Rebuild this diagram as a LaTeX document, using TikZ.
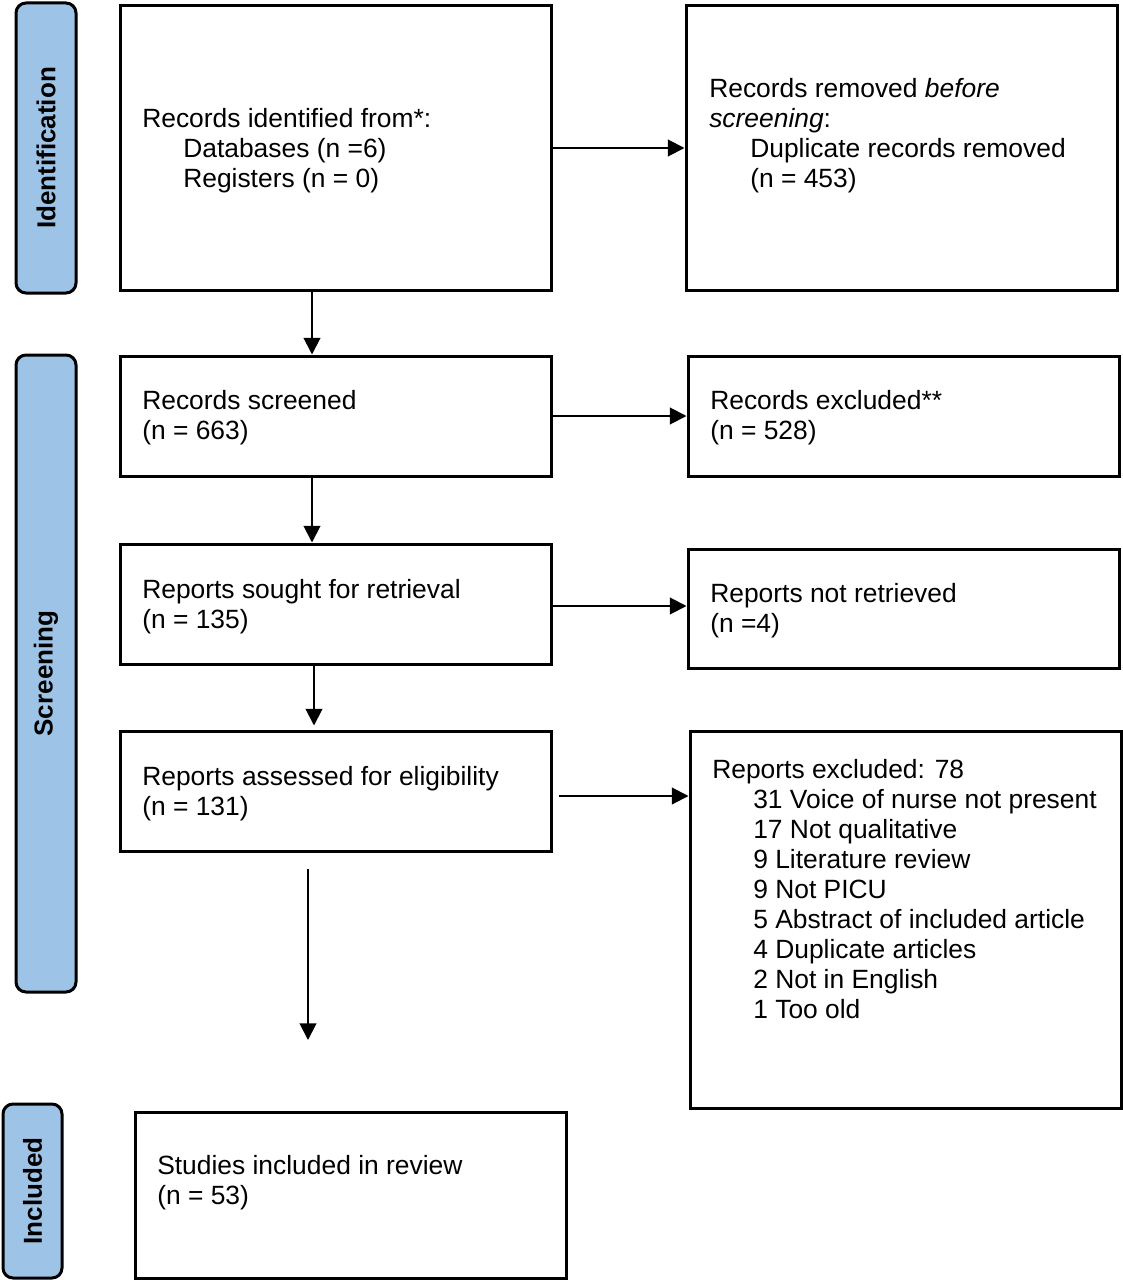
\documentclass[tikz,border=0pt]{standalone}
\usepackage{fontspec}
\setmainfont{Liberation Sans}
\usetikzlibrary{arrows.meta}
\definecolor{sideblue}{HTML}{9DC3E6}
\begin{document}
\begin{tikzpicture}[x=0.75pt,y=-0.75pt,
 box/.style={draw, line width=2.25pt, inner sep=0pt, minimum width=323.25pt},
 side/.style={draw, line width=2.25pt, fill=sideblue, rounded corners=7.5pt, inner sep=0pt, rotate=90, font=\fontsize{19.5}{22}\selectfont\bfseries},
 txt/.style={anchor=north west, inner sep=0pt, align=left, font=\fontsize{19.8}{22.5}\selectfont},
 arr/.style={line width=1.5pt, -{Triangle[length=12.5pt,width=12.5pt]}}]
\fill[white] (0,0) rectangle (1123,1280);
\useasboundingbox (0,0) rectangle (1123,1280);
% side labels
\node[side, minimum width=217.5pt, minimum height=45pt] (sid) at (46,148) {Identification};
\node[side, minimum width=477.75pt, minimum height=45pt] (ssc) at (46,673.5) {Screening};
\node[side, minimum width=130.5pt, minimum height=44.25pt] (sin) at (32.5,1191) {Included};
% boxes
\node[box, minimum height=213pt] (b1) at (335.5,148) {};
\node[box, minimum height=213pt] (b2) at (901.5,148) {};
\node[box, minimum height=90pt] (b3) at (335.5,416) {};
\node[box, minimum height=90pt] (b4) at (903.5,416) {};
\node[box, minimum height=90pt] (b5) at (335.5,604) {};
\node[box, minimum height=89.25pt] (b6) at (903.5,608.5) {};
\node[box, minimum height=90pt] (b7) at (335.5,791) {};
\node[box, minimum height=282.75pt] (b8) at (905.5,919.5) {};
\node[box, minimum height=124.5pt] (b9) at (350.5,1195) {};
% texts
\node[txt] (t1) at (142,106) {\strut Records identified from*:\\ \hspace*{30.75pt}Databases (n =6)\\ \hspace*{30.75pt}Registers (n = 0)};
\node[txt] (t2) at (709,76) {\strut Records removed \emph{before}\\ \emph{screening}:\\ \hspace*{30.75pt}Duplicate records removed\\ \hspace*{30.75pt}(n = 453)};
\node[txt] (t3) at (142,388) {\strut Records screened\\ (n = 663)};
\node[txt] (t4) at (710,388) {\strut Records excluded**\\ (n = 528)};
\node[txt] (t5) at (142,577) {\strut Reports sought for retrieval\\ (n = 135)};
\node[txt] (t6) at (710,581) {\strut Reports not retrieved\\ (n =4)};
\node[txt] (t7) at (142,764) {\strut Reports assessed for eligibility\\ (n = 131)};
\node[txt] (t8) at (712,757) {\strut Reports excluded: 78\\
 \hspace*{30.75pt}31 Voice of nurse not present\\
 \hspace*{30.75pt}17 Not qualitative\\
 \hspace*{30.75pt}9 Literature review\\
 \hspace*{30.75pt}9 Not PICU\\
 \hspace*{30.75pt}5 Abstract of included article\\
 \hspace*{30.75pt}4 Duplicate articles\\
 \hspace*{30.75pt}2 Not in English\\
 \hspace*{30.75pt}1 Too old};
\node[txt] (t9) at (157,1153) {\strut Studies included in review\\ (n = 53)};
% helper coordinates
\coordinate (x312) at (312,0);
\coordinate (x314) at (314,0);
\coordinate (y606) at (0,606);
\coordinate (y796) at (0,796);
\coordinate (fs) at (308,869);
\coordinate (fe) at (308,1040);
% arrows
\draw[arr] (b1.east) -- (b2.west);
\draw[arr] (b1.south -| x312) -- (b3.north -| x312);
\draw[arr] (b3.east) -- (b4.west);
\draw[arr] (b3.south -| x312) -- (b5.north -| x312);
\draw[arr] (b5.east |- y606) -- (b6.west |- y606);
\draw[arr, shorten >=3pt] (b5.south -| x314) -- (b7.north -| x314);
\draw[arr, shorten <=4.5pt] (b7.east |- y796) -- (b8.west |- y796);
\draw[arr] (fs) -- (fe);
\end{tikzpicture}
\end{document}
